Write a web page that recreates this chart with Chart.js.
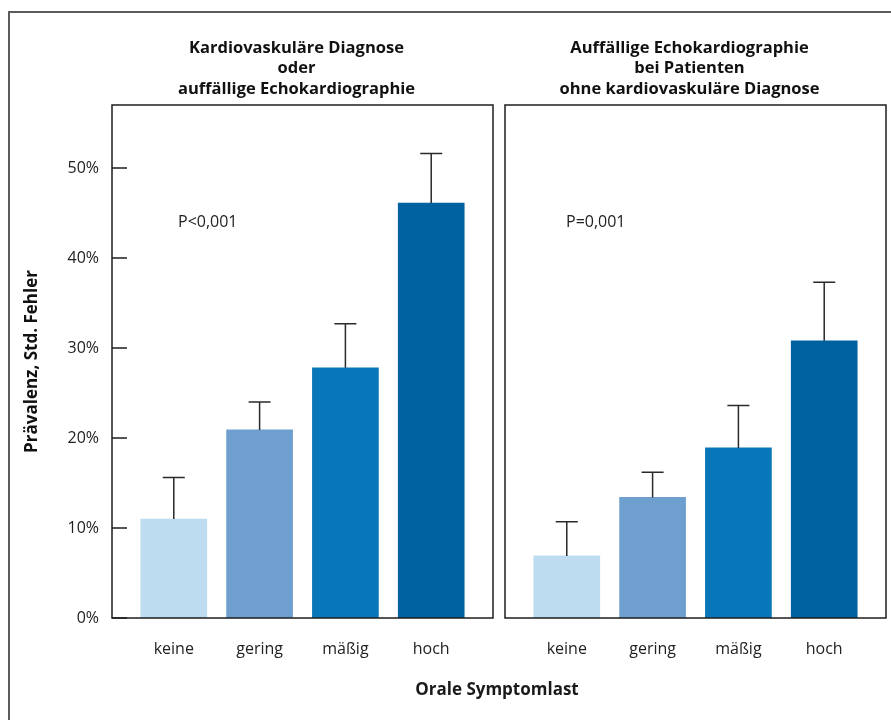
<!DOCTYPE html>
<html>
<head>
<meta charset="utf-8">
<script src="https://cdn.jsdelivr.net/npm/chart.js@4/dist/chart.umd.min.js"></script>
<style>
    body { margin: 0; background: #fff; }
    #wrap { position: relative; width: 891px; height: 720px; overflow: hidden; font-family: 'Open Sans', sans-serif; }
    #frame { position: absolute; left: 8px; top: 11px; width: 900px; height: 720px;
             border-left: 2px solid #5c5c5c; border-top: 2px solid #5c5c5c; }
    #left  { position: absolute; left: 0; top: 0; }
    #right { position: absolute; left: 500px; top: 0; }
    #xtitle { position: absolute; left: 297px; width: 400px; top: 677px; text-align: center;
              font-weight: bold; font-size: 17px; color: #1a1a1a; }
</style>
</head>
<body>
<div id="wrap">
    <div id="frame"></div>
    <canvas id="left" width="500" height="720"></canvas>
    <canvas id="right" width="391" height="720"></canvas>
    <div id="xtitle">Orale Symptomlast</div>
</div>
<script>
/* ── Data ── */
const categories  = ['keine', 'gering', 'mäßig', 'hoch'];
const leftValues  = [11.0, 20.9, 27.8, 46.1];
const leftSE      = [4.6, 3.1, 4.9, 5.5];
const rightValues = [6.9, 13.4, 18.9, 30.8];
const rightSE     = [3.8, 2.8, 4.7, 6.5];
const yTicks      = [0, 10, 20, 30, 40, 50];
const leftTitle   = ['Kardiovaskuläre Diagnose', 'oder', 'auffällige Echokardiographie'];
const rightTitle  = ['Auffällige Echokardiographie', 'bei Patienten', 'ohne kardiovaskuläre Diagnose'];
const leftP  = 'P<0,001';
const rightP = 'P=0,001';
const barColors = ['#bddcf0', '#6e9fce', '#0877b9', '#0061a0'];

const FONT = "'Open Sans', sans-serif";
const INK  = '#222';

/* ── Decorations: error bars, panel box, inner ticks, titles, p-value ── */
const decor = {
    id: 'decor',
    afterDatasetsDraw(chart, args, o) {
        const { ctx, chartArea: a, scales: { x, y } } = chart;
        ctx.save();

        // error bars
        ctx.strokeStyle = '#2a2a2a';
        ctx.lineWidth = 1.5;
        chart.getDatasetMeta(0).data.forEach((bar, i) => {
            const top = y.getPixelForValue(o.values[i] + o.se[i]);
            ctx.beginPath();
            ctx.moveTo(bar.x, bar.y);
            ctx.lineTo(bar.x, top);
            ctx.moveTo(bar.x - 11, top);
            ctx.lineTo(bar.x + 11, top);
            ctx.stroke();
        });

        // box
        ctx.strokeStyle = '#1e1e1e';
        ctx.lineWidth = 1.5;
        ctx.strokeRect(a.left, a.top, a.right - a.left, a.bottom - a.top);

        // ticks pointing inward
        if (o.ticks) {
            ctx.beginPath();
            yTicks.forEach(t => {
                const py = y.getPixelForValue(t);
                ctx.moveTo(a.left, py);
                ctx.lineTo(a.left + 15, py);
            });
            ctx.stroke();
        }

        // title
        ctx.fillStyle = '#111';
        ctx.textAlign = 'center';
        ctx.textBaseline = 'middle';
        ctx.font = 'bold 16.5px ' + FONT;
        const cx = (a.left + a.right) / 2 - 6;
        o.title.forEach((line, i) => ctx.fillText(line, cx, 48 + i * 20.5));

        // p-value
        ctx.textAlign = 'left';
        ctx.font = '16px ' + FONT;
        ctx.fillStyle = INK;
        ctx.fillText(o.p, a.left + o.pdx, 222);

        ctx.restore();
    }
};

function makeChart(id, values, se, title, p, isLeft) {
    return new Chart(document.getElementById(id), {
        type: 'bar',
        data: {
            datasets: [{
                data: values.map((v, i) => ({ x: i, y: v })),
                backgroundColor: barColors,
                borderWidth: 0,
                barThickness: 66,
            }],
        },
        options: {
            responsive: false,
            animation: false,
            layout: { padding: isLeft
                ? { left: 0, right: 7, top: 105, bottom: 42 }
                : { left: 5, right: 5, top: 105, bottom: 42 } },
            plugins: {
                legend: { display: false },
                tooltip: { enabled: false },
                decor: { values, se, title, p, ticks: isLeft, pdx: isLeft ? 66 : 61 },
            },
            scales: {
                x: {
                    type: 'linear', min: -0.72, max: 3.72, offset: false,
                    afterBuildTicks: s => { s.ticks = categories.map((c, i) => ({ value: i })); },
                    afterFit: s => { s.height = 60; },
                    grid: { display: false, drawTicks: false },
                    border: { display: false },
                    ticks: { callback: v => categories[v], padding: 22, color: INK,
                             font: { family: FONT, size: 16 }, maxRotation: 0 },
                },
                y: {
                    display: isLeft,
                    min: 0, max: 57,
                    afterBuildTicks: s => { s.ticks = yTicks.map(v => ({ value: v })); },
                    afterFit: s => { s.width = isLeft ? 112 : 0; },
                    grid: { display: false, drawTicks: false },
                    border: { display: false },
                    ticks: { callback: v => v + '%', padding: 13, color: INK,
                             font: { family: FONT, size: 16 } },
                    title: { display: true, text: 'Prävalenz, Std. Fehler', color: '#111',
                             font: { family: FONT, size: 17, weight: 'bold' },
                             padding: { top: 22, bottom: 0 } },
                },
            },
        },
        plugins: [decor],
    });
}

makeChart('left', leftValues, leftSE, leftTitle, leftP, true);
makeChart('right', rightValues, rightSE, rightTitle, rightP, false);
</script>
</body>
</html>
